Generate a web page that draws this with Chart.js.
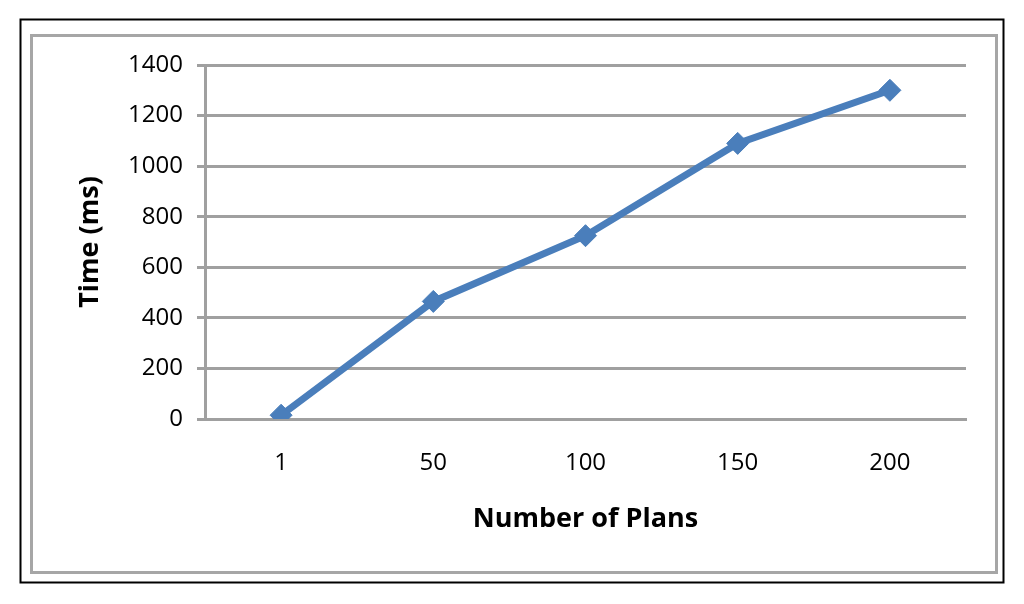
<!DOCTYPE html>
<html>
<head>
<meta charset="utf-8">
<script src="https://cdn.jsdelivr.net/npm/chart.js@4"></script>
<style>
  html, body { margin: 0; padding: 0; background: #fff; }
  #wrap { width: 1024px; height: 604px; }
</style>
</head>
<body>
<div id="wrap"><canvas id="chart" width="1024" height="604"></canvas></div>
<script>
// Data
const plans = ["1", "50", "100", "150", "200"];
const timeMs = [15, 465, 725, 1090, 1300];
const yTicks = [0, 200, 400, 600, 800, 1000, 1200, 1400];

// Colors
const colors = {
  line: "#4a7ebb",
  grid: "#a0a0a0",
  text: "#000",
  frame: "#000",
  innerFrame: "#a6a6a6",
};

const fontFamily = "'Open Sans', sans-serif";

// Draw the two frames round the chart
const framePlugin = {
  id: "frames",
  beforeDraw: (chart) => {
    const ctx = chart.ctx;
    ctx.save();
    ctx.fillStyle = "#fff";
    ctx.fillRect(0, 0, chart.width, chart.height);
    ctx.lineWidth = 2;
    ctx.strokeStyle = colors.frame;
    ctx.strokeRect(20.5, 19.5, 983, 563);
    ctx.lineWidth = 3;
    ctx.strokeStyle = colors.innerFrame;
    ctx.strokeRect(31.5, 35.5, 965, 537);
    ctx.restore();
  },
};

new Chart(document.getElementById("chart"), {
  type: "line",
  data: {
    labels: plans,
    datasets: [
      {
        label: "Time",
        data: timeMs,
        borderColor: colors.line,
        backgroundColor: colors.line,
        borderWidth: 7,
        pointStyle: "rectRot",
        pointRadius: 11,
        pointBorderWidth: 1,
        pointBackgroundColor: colors.line,
        pointBorderColor: colors.line,
        tension: 0,
      },
    ],
  },
  options: {
    responsive: false,
    animation: false,
    layout: {
      padding: { left: 0, right: 58, top: 65, bottom: 0 },
    },
    plugins: {
      legend: { display: false },
      tooltip: { enabled: false },
    },
    scales: {
      x: {
        offset: true,
        grid: { display: false, drawTicks: false },
        border: { display: true, color: colors.grid, width: 3 },
        ticks: {
          color: colors.text,
          padding: 30,
          font: { family: fontFamily, size: 24 },
        },
        title: {
          display: true,
          text: "Number of Plans",
          color: colors.text,
          padding: { top: 0, bottom: 68 },
          font: { family: fontFamily, size: 27, weight: "bold" },
        },
        afterFit: (scale) => {
          scale.height = 185;
        },
      },
      y: {
        min: 0,
        max: 1400,
        afterBuildTicks: (scale) => {
          scale.ticks = yTicks.map((v) => ({ value: v }));
        },
        grid: {
          color: colors.grid,
          lineWidth: 3,
          drawTicks: true,
          tickLength: 8,
        },
        border: { display: true, color: colors.grid, width: 3 },
        ticks: {
          color: colors.text,
          padding: 14,
          font: { family: fontFamily, size: 24 },
          callback: (value) => String(value),
        },
        title: {
          display: true,
          text: "Time (ms)",
          color: colors.text,
          padding: { top: 74, bottom: 0 },
          font: { family: fontFamily, size: 27, weight: "bold" },
        },
        afterFit: (scale) => {
          scale.width = 205;
        },
      },
    },
  },
  plugins: [framePlugin],
});
</script>
</body>
</html>
